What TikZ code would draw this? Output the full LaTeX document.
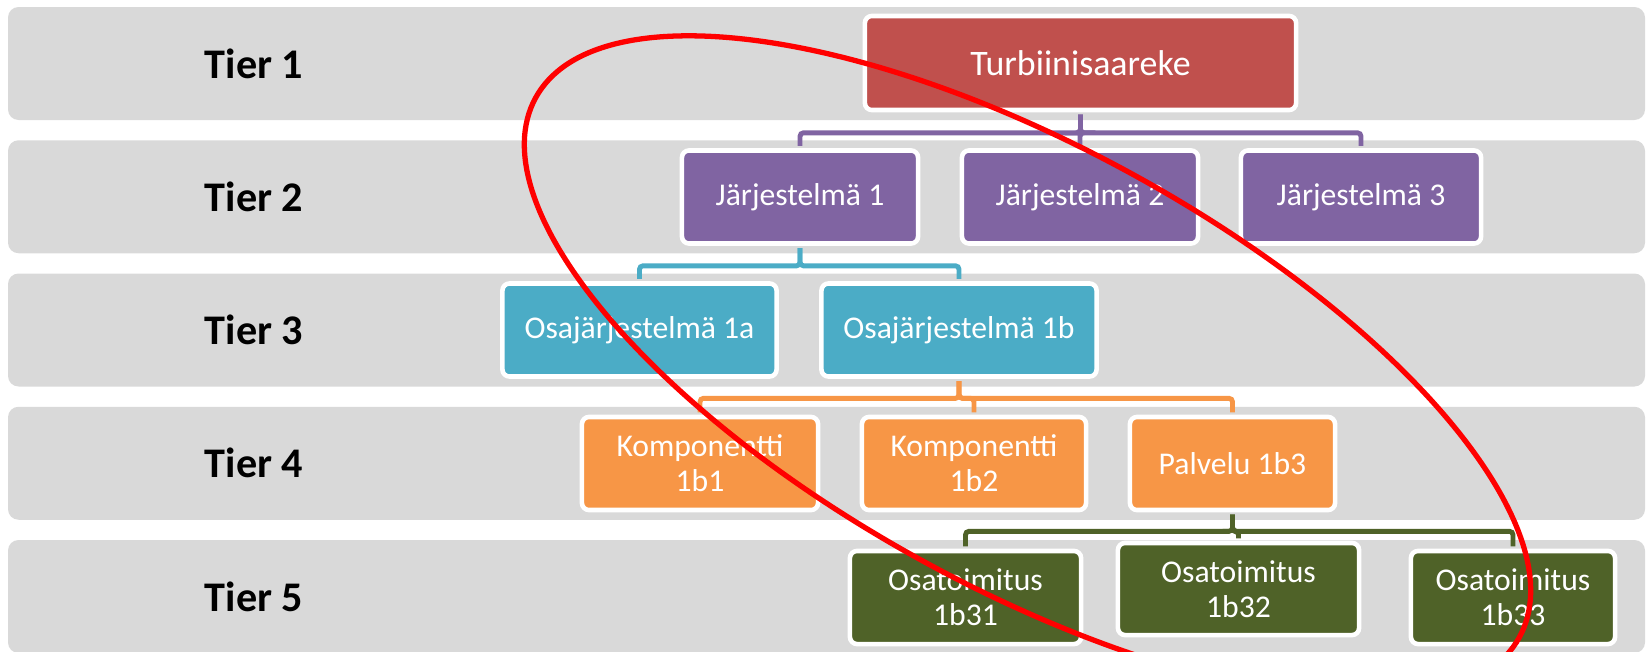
\documentclass[tikz,border=0pt]{standalone}
\usepackage{fontspec}
\setmainfont{Carlito}
\usepackage{tikz}
\usetikzlibrary{calc}
\definecolor{bandgray}{HTML}{D9D9D9}
\definecolor{boxred}{HTML}{C0504D}
\definecolor{boxpurple}{HTML}{8064A2}
\definecolor{boxcyan}{HTML}{4BACC6}
\definecolor{boxorange}{HTML}{F79646}
\definecolor{boxgreen}{HTML}{4F6228}

\begin{document}
\begin{tikzpicture}[x=0.01cm,y=-0.01cm,
  band/.style={fill=bandgray,rounded corners=3pt},
  tier/.style={font=\fontsize{12}{14}\selectfont\bfseries},
  box/.style={draw=white,line width=1.3pt,rounded corners=2pt,text=white,
    font=\fontsize{9}{10}\selectfont,align=center,inner sep=0pt,
    minimum height=0.93cm},
  link/.style={line width=1.4pt,rounded corners=1pt,
    shorten <=0.65pt,shorten >=0.65pt}]
\useasboundingbox (0,0) rectangle (1648,651);

%bands
\foreach \i in {1,...,5}{
  \pgfmathsetmacro\ytop{7+133.25*(\i-1)}
  \fill[band] (8,\ytop) rectangle (1645,\ytop+113);
  \node[tier] (tier\i) at (254,\ytop+56.5) {Tier \i};
}

%tier 1
\node[box,fill=boxred,minimum width=4.31cm,minimum height=0.94cm,
  font=\fontsize{10.2}{12}\selectfont] (top) at (1080.5,63) {Turbiinisaareke};

%tier 2
\node[box,fill=boxpurple,minimum width=2.36cm] (j1) at (800,197) {Järjestelmä 1};
\node[box,fill=boxpurple,minimum width=2.36cm] (j2) at (1080,197) {Järjestelmä 2};
\node[box,fill=boxpurple,minimum width=2.40cm] (j3) at (1361,197) {Järjestelmä 3};

%tier 3
\node[box,fill=boxcyan,minimum width=2.74cm] (s1a) at (639.5,330) {Osajärjestelmä 1a};
\node[box,fill=boxcyan,minimum width=2.75cm] (s1b) at (959,330) {Osajärjestelmä 1b};

%tier 4
\node[box,fill=boxorange,minimum width=2.36cm] (k1) at (700,463.5) {Komponentti\\1b1};
\node[box,fill=boxorange,minimum width=2.24cm] (k2) at (974,463.5) {Komponentti\\1b2};
\node[box,fill=boxorange,minimum width=2.05cm] (p3) at (1232.5,463.5) {Palvelu 1b3};

%tier 5
\node[box,fill=boxgreen,minimum width=2.31cm] (o1) at (965.5,597.5) {Osatoimitus\\1b31};
\node[box,fill=boxgreen,minimum width=2.41cm,minimum height=0.92cm] (o2) at (1238.5,589) {Osatoimitus\\1b32};
\node[box,fill=boxgreen,minimum width=2.04cm] (o3) at (1513,597.5) {Osatoimitus\\1b33};

%links
\foreach \c in {j1,j2,j3} \draw[link,boxpurple] (top.south) -- ++(0,20.5) -| (\c.north);
\foreach \c in {s1a,s1b} \draw[link,boxcyan] (j1.south) -- ++(0,20) -| (\c.north);
\foreach \c in {k1,k2,p3} \draw[link,boxorange] (s1b.south) -- ++(0,19.5) -| (\c.north);
\foreach \c in {o1,o2,o3} \draw[link,boxgreen] (p3.south) -- ++(0,19) -| (\c.north);

%red ring
\begin{scope}[shift={(1027.5,367.5)},rotate=-28.75]
\draw[red,line width=1.5pt] (0,0) ellipse [x radius=561, y radius=220];
\end{scope}
\end{tikzpicture}
\end{document}
